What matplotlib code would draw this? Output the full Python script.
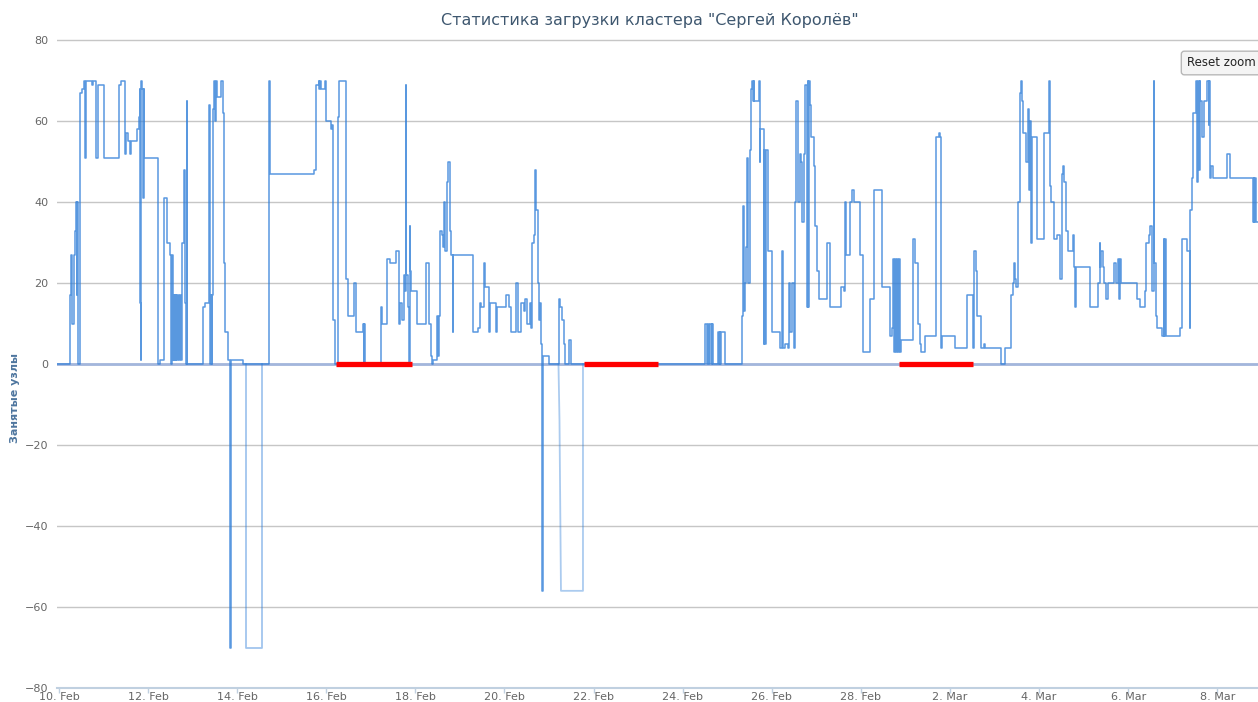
import numpy as np
import pandas as pd
import matplotlib
matplotlib.use('Agg')
import matplotlib.pyplot as plt

# days since 10 Feb 00:00 and number of busy nodes (step series)
t_days = [
    -0.05, 0.239, 0.269, 0.284, 0.329, 0.352, 0.382, 0.404, 0.412, 0.426,
    0.479, 0.524, 0.554, 0.576, 0.599, 0.741, 0.756, 0.838, 0.868, 1.003,
    1.339, 1.392, 1.474, 1.489, 1.511, 1.549, 1.586, 1.624, 1.751, 1.788,
    1.811, 1.826, 1.841, 1.848, 1.863, 1.886, 1.900, 1.915, 2.215, 2.275,
    2.349, 2.424, 2.499, 2.522, 2.536, 2.551, 2.574, 2.589, 2.604, 2.619,
    2.634, 2.656, 2.679, 2.701, 2.724, 2.746, 2.761, 2.798, 2.828, 2.851,
    2.866, 2.881, 3.225, 3.270, 3.367, 3.382, 3.397, 3.412, 3.427, 3.442,
    3.457, 3.472, 3.502, 3.517, 3.547, 3.636, 3.674, 3.696, 3.719, 3.786,
    3.838, 3.861, 4.130, 4.714, 4.729,
    5.716, 5.776, 5.829, 5.844, 5.859, 5.873, 5.963, 6.001, 6.105, 6.128,
    6.150, 6.203, 6.255, 6.278, 6.450, 6.480, 6.614, 6.674, 6.824, 6.839,
    6.854, 6.869, 7.228, 7.258, 7.362, 7.437, 7.572, 7.624, 7.662, 7.707,
    7.737, 7.766, 7.781, 7.796, 7.826, 7.849, 7.871, 7.886, 7.901, 8.036,
    8.245, 8.305, 8.350, 8.373, 8.395, 8.485, 8.500, 8.522, 8.545, 8.597,
    8.620, 8.642, 8.657, 8.672, 8.709, 8.739, 8.769, 8.799, 8.836, 8.851,
    9.293, 9.398, 9.443, 9.473, 9.532, 9.570, 9.659, 9.682, 9.817, 9.839,
    10.041, 10.101, 10.146, 10.266, 10.295, 10.370, 10.430, 10.468, 10.513, 10.565,
    10.595, 10.625, 10.655, 10.685, 10.707, 10.752, 10.774, 10.804, 10.827, 10.842,
    10.849, 10.864, 10.991, 11.216, 11.253, 11.291, 11.328, 11.358, 11.440, 11.493,
    14.508, 14.545, 14.560, 14.590, 14.605, 14.657, 14.665, 14.680, 14.793, 14.815,
    14.830, 14.845, 14.860, 14.957, 15.339, 15.354, 15.384, 15.406, 15.429, 15.443,
    15.466, 15.503, 15.518, 15.540, 15.555, 15.578, 15.593, 15.608, 15.705, 15.728,
    15.743, 15.817, 15.832, 15.847, 15.862, 15.915, 16.004, 16.176, 16.229, 16.251,
    16.304, 16.356, 16.393, 16.416, 16.453, 16.491, 16.513, 16.551, 16.580, 16.625,
    16.663, 16.685, 16.715, 16.753, 16.790, 16.805, 16.820, 16.835, 16.850, 16.880,
    16.940, 16.977, 17.015, 17.052, 17.239, 17.299, 17.553, 17.628, 17.643, 17.673,
    17.748, 17.800, 17.838,
    17.987, 18.047, 18.212, 18.302, 18.481, 18.646, 18.691, 18.721, 18.743, 18.765,
    18.788, 18.810, 18.833, 18.855, 18.885, 18.907, 19.162, 19.222, 19.282, 19.319,
    19.349, 19.447, 19.686, 19.746, 19.783, 19.806, 19.820, 20.120, 20.382, 20.516,
    20.546, 20.583, 20.606, 20.696, 20.756, 20.793, 21.145, 21.242, 21.377, 21.407,
    21.429, 21.467, 21.489, 21.526, 21.564, 21.579, 21.594, 21.616, 21.631, 21.713,
    21.743, 21.766, 21.788, 21.811, 21.833, 21.953, 22.103, 22.215, 22.237, 22.275,
    22.327,
    22.402, 22.462, 22.514, 22.537, 22.567, 22.611, 22.649, 22.761, 22.776, 22.813,
    22.836, 23.135, 23.315, 23.360, 23.374, 23.397, 23.435, 23.464, 23.509, 23.539,
    23.689, 23.734, 23.771, 23.794, 23.816, 23.846, 24.198, 24.272, 24.370, 24.407,
    24.459, 24.497, 24.534, 24.572, 24.587, 24.616, 24.646, 24.759, 24.796, 24.811,
    24.826, 24.841, 25.170, 25.208, 25.320, 25.380, 25.395, 25.432, 25.455, 25.522,
    25.545, 25.559, 25.582, 25.604, 25.619, 25.664, 25.694, 25.769, 25.806, 25.821,
    25.844, 25.859, 25.903, 26.218, 26.277, 26.801, 26.816, 26.831, 26.846, 26.861,
    27.000,
]
nodes = [
    0, 17, 27, 10, 27, 33, 40, 17, 40, 0,
    67, 68, 70, 51, 70, 69, 70, 51, 69, 51,
    69, 70, 59, 52, 57, 55, 52, 55, 58, 61,
    68, 15, 1, 70, 68, 41, 68, 51, 0, 1,
    41, 30, 27, 0, 27, 1, 17, 1, 17, 1,
    17, 1, 17, 1, 17, 1, 30, 48, 15, 0,
    65, 0, 14, 15, 64, 15, 0, 17, 0, 17,
    63, 70, 60, 70, 66, 70, 62, 25, 8, 1,
    -70, 1, 0, 70, 47,
    48, 69, 70, 68, 70, 68, 70, 60, 58, 59,
    11, 0, 61, 70, 21, 12, 20, 8, 10, 0,
    10, 0, 14, 10, 26, 25, 28, 10, 15, 11,
    22, 18, 69, 22, 14, 0, 34, 23, 18, 10,
    25, 10, 2, 0, 1, 12, 2, 12, 33, 32,
    29, 40, 35, 28, 45, 50, 33, 27, 8, 27,
    8, 9, 15, 14, 25, 19, 8, 15, 8, 14,
    17, 14, 8, 20, 8, 15, 13, 16, 10, 15,
    9, 30, 32, 48, 38, 20, 11, 15, 5, 0,
    -56, 2, 0, 16, 14, 11, 5, 0, 6, 0,
    10, 0, 10, 0, 10, 0, 10, 0, 8, 0,
    8, 0, 8, 0, 12, 39, 13, 20, 29, 51,
    20, 25, 53, 68, 70, 65, 70, 65, 70, 50,
    58, 5, 53, 5, 53, 28, 8, 4, 28, 4,
    5, 4, 20, 8, 20, 4, 40, 65, 40, 52,
    50, 35, 52, 69, 14, 70, 14, 70, 64, 56,
    49, 34, 23, 16, 30, 14, 19, 18, 40, 27,
    40, 43, 40,
    27, 3, 16, 43, 19, 7, 9, 26, 3, 26,
    3, 26, 3, 26, 3, 6, 31, 25, 10, 5,
    3, 7, 56, 57, 56, 4, 7, 4, 17, 4,
    28, 23, 12, 4, 5, 4, 0, 4, 17, 20,
    25, 21, 19, 40, 60, 67, 70, 65, 57, 50,
    63, 43, 60, 30, 56, 31, 57, 70, 44, 40,
    31,
    32, 21, 47, 49, 45, 33, 28, 32, 24, 14,
    24, 14, 20, 30, 24, 28, 24, 20, 16, 20,
    25, 20, 26, 16, 26, 20, 16, 14, 18, 30,
    32, 34, 18, 70, 25, 12, 9, 7, 31, 7,
    31, 7, 9, 31, 28, 9, 38, 46, 62, 70,
    45, 70, 48, 70, 65, 56, 65, 70, 59, 70,
    46, 49, 46, 52, 46, 35, 46, 35, 46, 35,
    35,
]

# light negative blocks (second trace)
neg1_t = [4.197, 4.197, 4.557, 4.557]
neg1_v = [0, -70, -70, 0]
neg2_t = [11.212, 11.235, 11.268, 11.762, 11.762]
neg2_v = [0, -14, -56, -56, 0]

# red marked intervals on the zero line
red_start = [6.218, 11.785, 18.855]
red_end = [7.924, 13.446, 20.516]

y_ticks = [-80, -60, -40, -20, 0, 20, 40, 60, 80]
tick_labels = ['10. Feb', '12. Feb', '14. Feb', '16. Feb', '18. Feb', '20. Feb',
               '22. Feb', '24. Feb', '26. Feb', '28. Feb', '2. Mar', '4. Mar',
               '6. Mar', '8. Mar']

start = pd.Timestamp('2017-02-10')


def to_dates(days):
    return start + pd.to_timedelta(np.asarray(days, dtype=float), unit='D')


fig = plt.figure(figsize=(12.58, 7.02), dpi=100, facecolor='white')
ax = fig.add_axes([57 / 1258, 14 / 702, 1201 / 1258, 649 / 702])

ax.axhline(0, color='#a3b6dc', lw=2, zorder=1)
ax.plot(to_dates(t_days), nodes, drawstyle='steps-post', color='#2f7ed8',
        lw=1.1, alpha=0.8, zorder=3)
ax.plot(to_dates(neg1_t), neg1_v, color='#2f7ed8', lw=1.3, alpha=0.45, zorder=2)
ax.plot(to_dates(neg2_t), neg2_v, color='#2f7ed8', lw=1.3, alpha=0.4, zorder=2)
for s, e in zip(red_start, red_end):
    ax.plot(to_dates([s, e]), [0, 0], color='#ff0000', lw=3.8,
            solid_capstyle='butt', zorder=4)

ax.set_ylim(-80, 80.3)
ax.set_yticks(y_ticks)
ax.set_xlim(to_dates([-0.045, 26.915]))
ax.set_xticks(pd.date_range(start, periods=len(tick_labels), freq='2D'))
ax.set_xticklabels(tick_labels)

for side in ['top', 'right', 'left']:
    ax.spines[side].set_visible(False)
ax.spines['bottom'].set_color('#c0d0e0')
ax.spines['bottom'].set_linewidth(1.5)

ax.set_axisbelow(True)
ax.yaxis.grid(True, color='#c6c6c6', lw=1)
ax.tick_params(axis='y', length=0, pad=6, labelsize=8, labelcolor='#666666')
ax.tick_params(axis='x', length=3.6, width=1, color='#c0d0e0', pad=-1,
               labelsize=8, labelcolor='#666666')

fig.text(650 / 1258, 1 - 20 / 702, 'Статистика загрузки кластера "Сергей Королёв"',
         ha='center', va='center', fontsize=11.5, color='#3e576f')
fig.text(15 / 1258, 1 - 398 / 702, 'Занятые узлы', rotation=90, ha='center',
         va='center', fontsize=8, fontweight='bold', color='#4d759e')
fig.text(1221 / 1258, 1 - 63 / 702, 'Reset zoom', ha='center', va='center',
         fontsize=8.5, color='#222222',
         bbox=dict(boxstyle='round,pad=0.45,rounding_size=0.25', fc='#f4f4f4',
                   ec='#b8b8b8', lw=1))

assert len(t_days) == len(nodes)
fig.savefig('out.png', dpi=100)
